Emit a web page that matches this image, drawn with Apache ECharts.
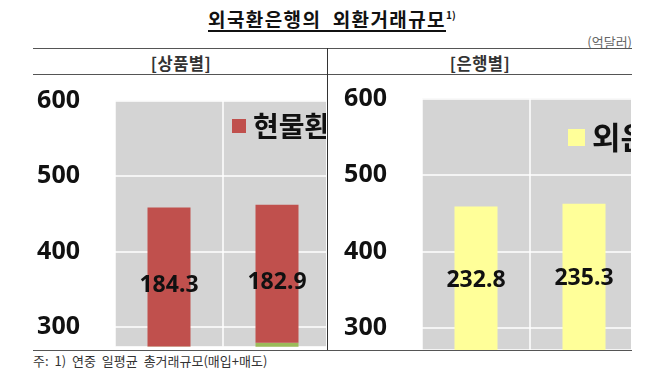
<!DOCTYPE html>
<html>
<head>
<meta charset="utf-8">
<script src="https://cdn.jsdelivr.net/npm/echarts@6/dist/echarts.min.js"></script>
<style>
  html, body { margin: 0; padding: 0; background: #fff; }
  body { width: 650px; height: 382px; position: relative; overflow: hidden;
         font-family: 'Noto Sans CJK KR', 'Noto Sans', sans-serif; }
  .abs { position: absolute; }
  #title { left: 208px; top: 7px; font-size: 19px; font-weight: bold; color: #111; white-space: nowrap; line-height: 24px; letter-spacing: 1.4px; }
  #title span.u { text-decoration: underline; text-underline-offset: 3px; text-decoration-thickness: 1.5px; }
  #title sup { font-size: 10px; vertical-align: 8px; line-height: 0; letter-spacing: 0; }
  #unit { right: 18px; top: 34px; font-size: 13px; color: #666; line-height: 16px; }
  .hline { height: 0; border-top: 1.5px solid #555; left: 33px; width: 599px; }
  .vline { width: 0; border-left: 1.5px solid #333; }
  .hdr { top: 53px; font-size: 16.5px; font-weight: bold; color: #333; line-height: 20px; transform: translateX(-50%); white-space: nowrap; letter-spacing: 0.5px; }
  #foot { left: 33px; top: 353px; font-size: 13px; color: #333; line-height: 16px; white-space: nowrap; word-spacing: 3px; }
  .clip { overflow: hidden; }
</style>
</head>
<body>
<div id="title" class="abs"><span class="u">외국환은행의&nbsp; 외환거래규모</span><sup>1)</sup></div>
<div id="unit" class="abs">(억달러)</div>
<div class="abs hline" style="top:47.5px"></div>
<div class="abs hline" style="top:73.5px"></div>
<div class="abs hline" style="top:349.5px"></div>
<div class="abs vline" style="left:327px; top:48px; height:302px"></div>
<div class="abs hdr" style="left:181px">[상품별]</div>
<div class="abs hdr" style="left:480px">[은행별]</div>
<div id="foot" class="abs">주: 1) 연중 일평균 총거래규모(매입+매도)</div>

<div class="abs clip" style="left:0px; top:75px; width:326px; height:275px;">
  <div id="c1" style="width:560px; height:275px;"></div>
</div>
<div class="abs clip" style="left:329px; top:75px; width:302px; height:275px;">
  <div id="c2" style="width:560px; height:275px;"></div>
</div>

<script>
// ---- data ----
const categories = ['2016', '2017'];
// [상품별]
const productOtherName = '외환파생상품';
const productOther = [274.3, 279.3];
const spotName = '현물환';
const spot = [184.3, 182.9];
// [은행별]
const domesticName = '국내은행';
const domestic = [225.8, 226.9];
const foreignName = '외은지점';
const foreign = [232.8, 235.3];

const FONT = "'Noto Sans', 'Noto Sans CJK KR', sans-serif";

function makeOption(cfg) {
  return {
    animation: false,
    textStyle: { fontFamily: FONT },
    grid: {
      left: cfg.gridLeft, top: cfg.gridTop, width: 216, height: cfg.gridHeight,
      show: true, backgroundColor: '#d4d4d4', borderWidth: 0, containLabel: false
    },
    legend: {
      data: [cfg.topName],
      left: cfg.legendLeft, top: cfg.legendTop, padding: 0,
      icon: 'rect', itemWidth: cfg.iconSize, itemHeight: cfg.iconSize, itemGap: 10,
      textStyle: { fontSize: cfg.legendFont, fontWeight: 'bold', color: '#111',
                   fontFamily: "'Noto Sans CJK KR', sans-serif", padding: [0, 0, 0, 2] }
    },
    xAxis: {
      type: 'category', data: categories, boundaryGap: true,
      axisLine: { show: false }, axisTick: { show: false }, axisLabel: { show: false },
      splitLine: { show: true, lineStyle: { color: '#ffffff', width: 1.5 } }
    },
    yAxis: {
      type: 'value', min: cfg.min, max: 600, minInterval: 100, maxInterval: 100,
      axisLine: { show: false }, axisTick: { show: false },
      axisLabel: { showMinLabel: false, margin: 35, fontSize: 25, fontWeight: 'bold', color: '#111', fontFamily: FONT },
      splitLine: { show: true, lineStyle: { color: '#ffffff', width: 1.5 } }
    },
    series: [
      { name: cfg.bottomName, type: 'bar', stack: 't', data: cfg.bottom, barWidth: 43,
        itemStyle: { color: cfg.bottomColor } },
      { name: cfg.topName, type: 'bar', stack: 't', data: cfg.top, barWidth: 43,
        itemStyle: { color: cfg.topColor },
        label: { show: true, position: 'inside', offset: [0, cfg.labelOffset],
                 fontSize: 23, fontWeight: 'bold', color: '#111', fontFamily: FONT } }
    ]
  };
}

const c1 = echarts.init(document.getElementById('c1'), null, { renderer: 'canvas' });
c1.setOption(makeOption({
  gridLeft: 115, gridTop: 25.7, gridHeight: 246, min: 274,
  bottomName: productOtherName, bottom: productOther, bottomColor: '#9bbb59',
  topName: spotName, top: spot, topColor: '#c0504d', labelOffset: 9,
  legendLeft: 232, legendTop: 37, iconSize: 14, legendFont: 28
}));

const c2 = echarts.init(document.getElementById('c2'), null, { renderer: 'canvas' });
c2.setOption(makeOption({
  gridLeft: 93, gridTop: 23.5, gridHeight: 251.5, min: 271,
  bottomName: domesticName, bottom: domestic, bottomColor: '#4f81bd',
  topName: foreignName, top: foreign, topColor: '#ffff99', labelOffset: 2,
  legendLeft: 239, legendTop: 47, iconSize: 17, legendFont: 31
}));
</script>
</body>
</html>
